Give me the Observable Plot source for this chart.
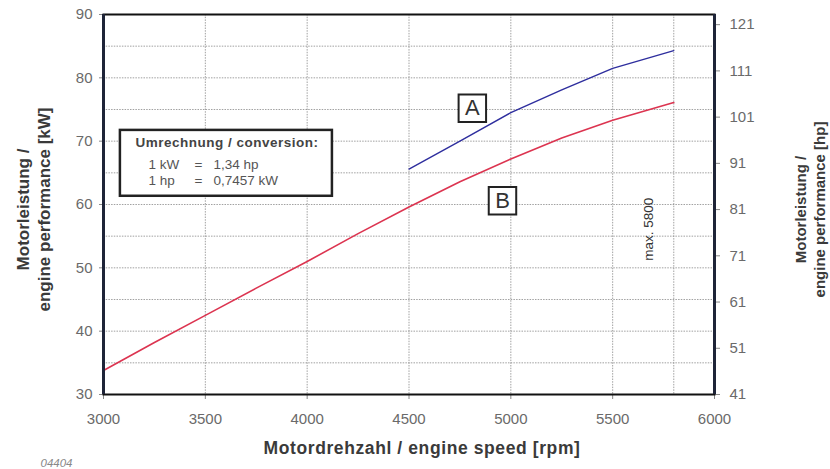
<!DOCTYPE html>
<html>
<head>
<meta charset="utf-8">
<script src="https://cdn.jsdelivr.net/npm/d3@7"></script>
<script src="https://cdn.jsdelivr.net/npm/@observablehq/plot@0.6"></script>
<style>
  html, body { margin: 0; padding: 0; background: #fff; }
  svg { font-family: "Liberation Sans", Arial, sans-serif; }
</style>
</head>
<body>
<div id="chart"></div>
<script>
// ---- data ----
const rpmB = [3000, 3250, 3500, 3750, 4000, 4250, 4500, 4750, 5000, 5250, 5500, 5800];
const kwB  = [33.8, 38.2, 42.5, 46.8, 51.0, 55.4, 59.6, 63.6, 67.2, 70.5, 73.3, 76.1];
const rpmA = [4500, 4750, 5000, 5250, 5500, 5800];
const kwA  = [65.6, 70.0, 74.5, 78.1, 81.5, 84.3];
const kwTicks  = [30, 40, 50, 60, 70, 80, 90];
const hpTicks  = [41, 51, 61, 71, 81, 91, 101, 111, 121];
const rpmTicks = [3000, 3500, 4000, 4500, 5000, 5500, 6000];
const gridKw   = [35, 40, 45, 50, 55, 60, 65, 70, 75, 80, 85];
const gridRpm  = [3500, 4000, 4500, 5000, 5500, 5800];
const curveLabels = ["A", "B"];
const curveLabelRpm = [4811, 4959];
const curveLabelKw  = [75.2, 60.6];
const maxRpmLabel = "max. 5800";
const convTitle = "Umrechnung / conversion:";
const convLeft  = ["1 kW", "1 hp"];
const convEq    = ["=", "="];
const convRight = ["1,34 hp", "0,7457 kW"];

// hp axis shares the kW scale: 41 hp at 30 kW, 123.2 hp at 90 kW
const hpToKw = hp => 30 + (hp - 41) * 60 / 82.2;
const kwToHp = kw => Math.round(41 + (kw - 30) * 82.2 / 60);

const dataB = rpmB.map((r, i) => ({rpm: r, kw: kwB[i]}));
const dataA = rpmA.map((r, i) => ({rpm: r, kw: kwA[i]}));
const labels = curveLabels.map((t, i) => ({t, rpm: curveLabelRpm[i], kw: curveLabelKw[i]}));

// conversion box placement (annotation)
const convBox = [{x1: 3083, x2: 4124, y1: 61.3, y2: 71.7}];
const convRows = [0, 1].map(i => ({l: convLeft[i], e: convEq[i], r: convRight[i], kw: [66.3, 63.7][i]}));

const tickColor = "#6a6a6a";
const titleColor = "#3a3a3a";

const chart = Plot.plot({
  width: 830,
  height: 469,
  marginLeft: 103,
  marginRight: 116,
  marginTop: 14,
  marginBottom: 75,
  x: {domain: [3000, 6000]},
  y: {domain: [30, 90]},
  style: {fontFamily: "'Liberation Sans', Arial, sans-serif", background: "#fff"},
  marks: [
    Plot.gridY(gridKw, {stroke: "#8a8a8a", strokeOpacity: 0.8, strokeDasharray: "1.5,1.2", strokeWidth: 1}),
    Plot.gridX(gridRpm, {stroke: "#8a8a8a", strokeOpacity: 0.8, strokeDasharray: "1.5,1.2", strokeWidth: 1}),
    Plot.axisY(kwTicks, {anchor: "left", tickSize: 4, tickPadding: 7, fontSize: 15, fill: tickColor, stroke: "#888", label: null}),
    Plot.axisY(hpTicks.map(hpToKw), {anchor: "right", tickSize: 5, tickPadding: 10, fontSize: 15, fill: tickColor, stroke: "#888", label: null, tickFormat: d => String(kwToHp(d))}),
    Plot.axisX(rpmTicks, {anchor: "bottom", tickSize: 5, tickPadding: 14, fontSize: 15, fill: tickColor, stroke: "#888", label: null, tickFormat: d => String(d)}),
    // conversion box
    Plot.rect(convBox, {x1: "x1", x2: "x2", y1: "y1", y2: "y2", fill: "#fff", stroke: "#222", strokeWidth: 2.5}),
    Plot.text([convTitle], {x: 3157, y: 69.8, text: d => d, textAnchor: "start", fontSize: 13.5, fontWeight: "bold", fill: "#444"}),
    Plot.text(convRows, {x: 3221, y: "kw", text: "l", textAnchor: "start", fontSize: 13.5, fill: "#555"}),
    Plot.text(convRows, {x: 3447, y: "kw", text: "e", textAnchor: "start", fontSize: 13.5, fill: "#555"}),
    Plot.text(convRows, {x: 3540, y: "kw", text: "r", textAnchor: "start", fontSize: 13.5, fill: "#555"}),
    // curves
    Plot.line(dataB, {x: "rpm", y: "kw", stroke: "#dc3450", strokeWidth: 1.6}),
    Plot.line(dataA, {x: "rpm", y: "kw", stroke: "#2e2e9e", strokeWidth: 1.4}),
    // curve labels in boxes
    Plot.dot(labels, {x: "rpm", y: "kw", symbol: "square", r: 15.5, fill: "#fff", stroke: "#222", strokeWidth: 2}),
    Plot.text(labels, {x: "rpm", y: "kw", text: "t", fontSize: 22, fill: "#333"}),
    // max label
    Plot.text([maxRpmLabel], {x: 5675, y: 56.1, text: d => d, rotate: -90, fontSize: 13.5, fill: "#333"}),
    // frame
    Plot.frame({stroke: "#111", strokeWidth: 2}),
    Plot.ruleX([3000, 6000], {stroke: "#1e2438", strokeWidth: 3}),
    // axis titles
    Plot.text(["Motorleistung /\nengine performance [kW]"], {frameAnchor: "left", dx: -71, dy: 5, textAnchor: "middle", text: d => d, rotate: -90, fontSize: 17, fontWeight: "bold", fill: titleColor, lineHeight: 1.25}),
    Plot.text(["Motorleistung /\nengine performance [hp]"], {frameAnchor: "right", dx: 95, dy: 5, textAnchor: "middle", text: d => d, rotate: -90, fontSize: 15, fontWeight: "bold", fill: titleColor, lineHeight: 1.25}),
    Plot.text(["Motordrehzahl / engine speed [rpm]"], {frameAnchor: "bottom", dx: 13, dy: 59, text: d => d, fontSize: 17.5, fontWeight: "bold", fill: titleColor}),
    Plot.text(["04404"], {frameAnchor: "bottom-left", dx: -63, dy: 72, text: d => d, textAnchor: "start", fontSize: 11.5, fontStyle: "italic", fill: "#888"})
  ]
});
// slight horizontal widening of a few captions, as in the scanned original
d3.select(chart).selectAll("text").each(function () {
  const t = this.textContent;
  if (t === convTitle) this.setAttribute("letter-spacing", "0.5");
  if (t === "Motordrehzahl / engine speed [rpm]") this.setAttribute("letter-spacing", "0.6");
});
document.getElementById("chart").appendChild(chart);
</script>
</body>
</html>
